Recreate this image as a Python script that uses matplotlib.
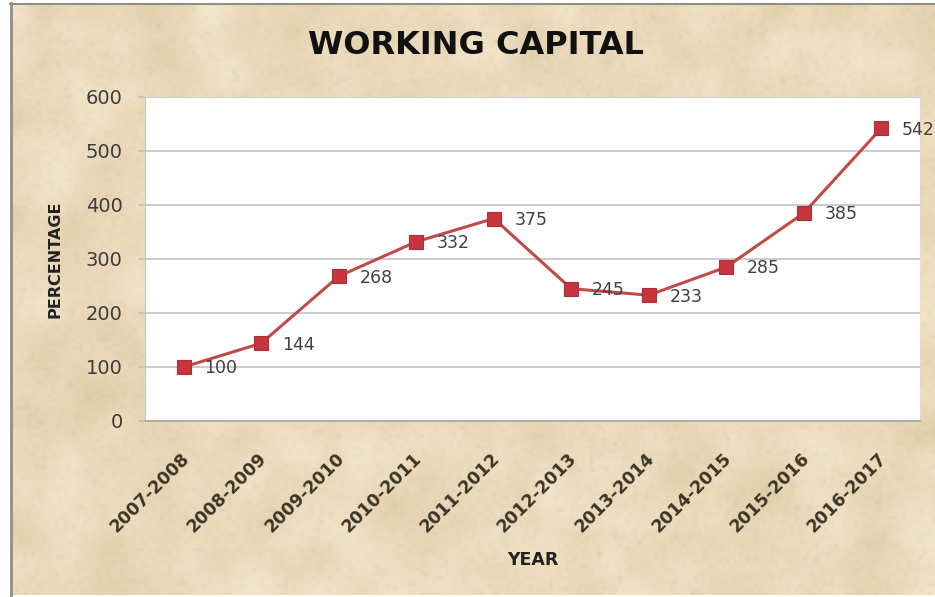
import numpy as np
import matplotlib
matplotlib.use("Agg")
import matplotlib.pyplot as plt
from matplotlib.lines import Line2D
from matplotlib.transforms import ScaledTranslation

years = ["2007-2008", "2008-2009", "2009-2010", "2010-2011", "2011-2012",
         "2012-2013", "2013-2014", "2014-2015", "2015-2016", "2016-2017"]
percentage = [100, 144, 268, 332, 375, 245, 233, 285, 385, 542]
y_ticks = [0, 100, 200, 300, 400, 500, 600]

W, H = 935, 597
fig = plt.figure(figsize=(W / 100, H / 100), dpi=100)
fig.patch.set_facecolor("white")

# parchment backdrop
bg = fig.add_axes([11 / W, 2 / H, 924 / W, 591 / H])
bg.set_axis_off()
rng = np.random.default_rng(3)
base = np.array([0.925, 0.857, 0.737])
coarse = rng.normal(0, 1, (28, 44))
tex = base + coarse[..., None] * np.array([0.022, 0.026, 0.036])
bg.imshow(np.clip(tex, 0, 1), aspect="auto", interpolation="bicubic",
          extent=[0, 1, 0, 1])
fine = rng.normal(0, 1, (150, 230))
fine_rgba = np.zeros(fine.shape + (4,))
fine_rgba[..., :3] = np.where(fine[..., None] > 0, 0.98, 0.72) * np.array([1.0, 0.93, 0.80])
fine_rgba[..., 3] = np.clip(np.abs(fine) * 0.07, 0, 0.25)
bg.imshow(fine_rgba, aspect="auto", interpolation="bilinear", extent=[0, 1, 0, 1])
bg.set_xlim(0, 1)
bg.set_ylim(0, 1)

# frame edges
fig.add_artist(Line2D([10.5 / W, 10.5 / W], [0, 1 - 3 / H], transform=fig.transFigure,
                      color="#8f8f86", lw=2))
fig.add_artist(Line2D([10 / W, 1], [1 - 3.5 / H, 1 - 3.5 / H], transform=fig.transFigure,
                      color="#8f8f86", lw=1.5))

ax = fig.add_axes([145 / W, 1 - 421 / H, 775 / W, 324 / H])
ax.set_facecolor("white")
x = np.arange(len(years))
ax.plot(x, percentage, color="#BE4B48", lw=2.2, marker="s", markersize=10,
        markerfacecolor="#C8343E", markeredgecolor="#A8303A", markeredgewidth=0.8,
        zorder=3)
for xi, v in zip(x, percentage):
    ax.annotate(str(v), (xi, v), xytext=(15, -1), textcoords="offset points",
                ha="left", va="center", fontsize=12.5, color="#404040",
                annotation_clip=False, zorder=4)

ax.set_xlim(-0.5, len(years) - 0.5)
ax.set_ylim(0, 600)
ax.set_yticks(y_ticks)
ax.set_yticklabels([str(t) for t in y_ticks], fontsize=14, color="#3c3c3c")
ax.yaxis.grid(True, color="#bdbdbd", lw=1.1)
ax.set_axisbelow(True)
ax.tick_params(axis="y", length=5, color="#bdbdbd", width=1.1, pad=11)
ax.tick_params(axis="x", length=0, pad=25)
ax.set_xticks(x)
ax.set_xticklabels(years, rotation=45, ha="right", va="center",
                   rotation_mode="anchor", fontsize=12.5, fontweight="bold",
                   color="#3b3526")
for lbl in ax.get_xticklabels():
    lbl.set_transform(lbl.get_transform() + ScaledTranslation(3 / 100, 0, fig.dpi_scale_trans))
for s in ["top", "right"]:
    ax.spines[s].set_visible(False)
ax.spines["left"].set_color("#c8c8c8")
ax.spines["bottom"].set_color("#a8a8a0")
ax.spines["bottom"].set_linewidth(1.2)

fig.text(476 / W, 1 - 45 / H, "WORKING CAPITAL", ha="center", va="center",
         fontsize=23, fontweight="bold", color="#111111")
fig.text(55 / W, 1 - 259 / H, "PERCENTAGE", ha="center", va="center", rotation=90,
         fontsize=11.5, fontweight="bold", color="#222222")
fig.text(533 / W, 1 - 560 / H, "YEAR", ha="center", va="center",
         fontsize=12.5, fontweight="bold", color="#222222")

fig.savefig("out.png", dpi=100)
